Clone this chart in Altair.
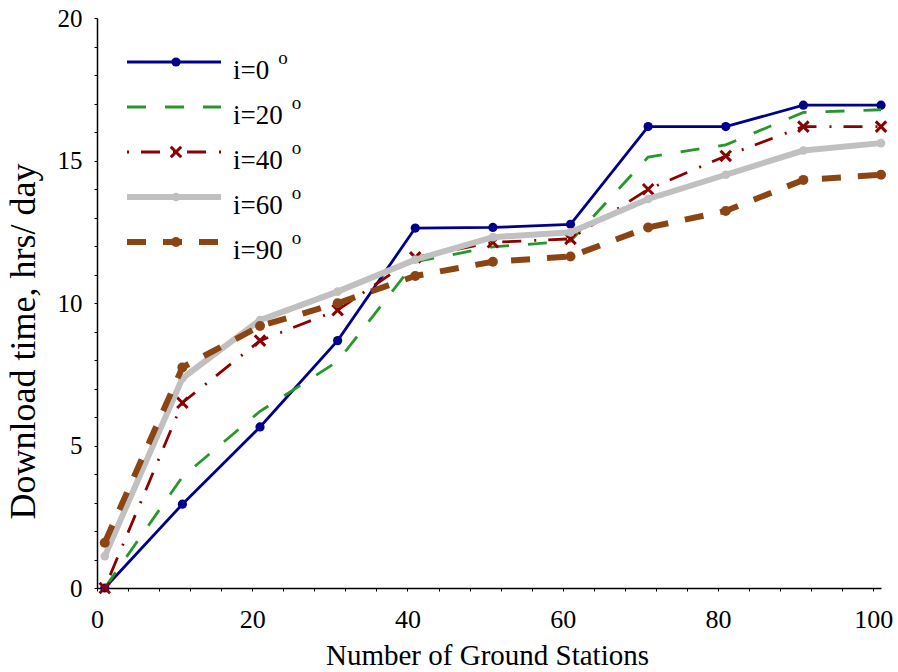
import altair as alt
import pandas as pd

# ---------------- data ----------------
stations = [1, 11, 21, 31, 41, 51, 61, 71, 81, 91, 101]
series_labels = ["i=0", "i=20", "i=40", "i=60", "i=90"]
hours_i0 = [0, 2.94, 5.65, 8.68, 12.63, 12.65, 12.76, 16.19, 16.19, 16.94, 16.94]
hours_i20 = [0, 3.9, 6.2, 7.95, 11.45, 11.97, 12.17, 15.12, 15.55, 16.69, 16.78]
hours_i40 = [0, 6.5, 8.68, 9.75, 11.6, 12.13, 12.25, 13.99, 15.16, 16.19, 16.19]
hours_i60 = [1.12, 7.36, 9.4, 10.4, 11.52, 12.31, 12.48, 13.65, 14.5, 15.35, 15.61]
hours_i90 = [1.59, 7.74, 9.19, 9.99, 10.95, 11.45, 11.63, 12.65, 13.23, 14.32, 14.5]
x_tick_values = list(range(0, 101, 4))
y_tick_values = list(range(0, 21))

# ---------------- styles ----------------
series_colors = ["#00008B", "#27972A", "#8B0000", "#C0C0C0", "#8B4513"]
series_dashes = [None, [19, 19], [2, 12, 19, 13], None, [19, 17]]
series_widths = [2.8, 2.8, 2.8, 6, 6]
series_markers = ["circle", None, "cross", "circle", "circle"]
marker_sizes = [85, 0, 110, 75, 100]
CROSS = "M-1,-1L1,1M-1,1L1,-1"
FONT = "Liberation Serif"

all_hours = [hours_i0, hours_i20, hours_i40, hours_i60, hours_i90]
rows = []
for lab, vals in zip(series_labels, all_hours):
    for s, h in zip(stations, vals):
        rows.append({"series": lab, "stations": s, "hours": h})
df = pd.DataFrame(rows)
legend_df = pd.DataFrame({"series": series_labels})

x_enc = alt.X(
    "stations:Q",
    scale=alt.Scale(domain=[0, 101], nice=False, zero=False),
    axis=alt.Axis(
        values=x_tick_values,
        labelExpr="datum.value % 20 == 0 ? datum.label : ''",
        grid=False, tickSize=3, tickColor="black", tickWidth=1,
        domainColor="black", domainWidth=1.5,
        labelFont=FONT, labelFontSize=26, labelColor="black", labelPadding=15,
        labelOverlap=False, labelFlush=False, labelBound=False,
        title="Number of Ground Stations", titleFont=FONT, titleFontSize=29,
        titleFontWeight="normal", titleColor="black",
        titleX=390, titleY=76, titleAlign="center", titleBaseline="alphabetic",
    ),
)
y_enc = alt.Y(
    "hours:Q",
    scale=alt.Scale(domain=[0, 20], nice=False),
    axis=alt.Axis(
        values=y_tick_values,
        labelExpr="datum.value % 5 == 0 ? datum.label : ''",
        grid=False, tickSize=3, tickColor="black", tickWidth=1,
        domainColor="black", domainWidth=1.5,
        labelFont=FONT, labelFontSize=25, labelColor="black", labelPadding=12,
        labelOverlap=False, labelFlush=False, labelBound=False,
        title="Download time, hrs/ day", titleFont=FONT, titleFontSize=36,
        titleFontWeight="normal", titleColor="black",
        titleX=-74, titleY=323, titleAlign="center", titleBaseline="middle",
    ),
)

ly = alt.Y(
    "series:N",
    scale=alt.Scale(domain=series_labels, type="point", range=[44, 224], padding=0),
    axis=None,
)


def line_props(i):
    p = dict(color=series_colors[i], strokeWidth=series_widths[i], strokeCap="butt")
    if series_dashes[i] is not None:
        p["strokeDash"] = series_dashes[i]
    return p


def marker_props(i):
    if series_markers[i] == "circle":
        return dict(shape="circle", filled=True, opacity=1,
                    color=series_colors[i], size=marker_sizes[i])
    return dict(shape=CROSS, filled=False, opacity=1, strokeWidth=3,
                color=series_colors[i], size=marker_sizes[i])


main_layers = []
legend_layers = []
for i, lab in enumerate(series_labels):
    base = alt.Chart(df).transform_filter(alt.datum.series == lab)
    main_layers.append(base.mark_line(**line_props(i)).encode(x=x_enc, y=y_enc))
    lbase = alt.Chart(legend_df).transform_filter(alt.datum.series == lab)
    legend_layers.append(
        lbase.mark_rule(**line_props(i)).encode(x=alt.value(30), x2=alt.value(124), y=ly)
    )
    if series_markers[i] is not None:
        main_layers.append(base.mark_point(**marker_props(i)).encode(x=x_enc, y=y_enc))
        legend_layers.append(
            lbase.mark_point(**marker_props(i)).encode(x=alt.value(79), y=ly)
        )

leg_text = alt.Chart(legend_df).mark_text(
    align="left", baseline="alphabetic", font=FONT, fontSize=27, color="black", dy=17
).encode(x=alt.value(136), y=ly, text="series:N")
leg_sup = alt.Chart(legend_df).transform_calculate(
    ox="136 + 27 * (0.842 + 0.5 * (length(datum.series) - 2)) + 9"
).mark_text(
    align="left", baseline="alphabetic", font=FONT, fontSize=19, color="black", dy=2
).encode(x=alt.X("ox:Q", scale=None), y=ly, text=alt.value("o"))
legend_layers += [leg_text, leg_sup]

main = alt.layer(*main_layers)
legend = alt.layer(*legend_layers)

chart = (
    alt.layer(main, legend)
    .resolve_scale(y="independent")
    .properties(
        width=784, height=570,
        padding={"left": 97, "top": 18, "right": 17, "bottom": 84},
        autosize=alt.AutoSizeParams(type="none"),
        background="white",
    )
    .configure_view(strokeWidth=0)
)
chart.save("out.html", embed_options={"renderer": "svg", "actions": False})
